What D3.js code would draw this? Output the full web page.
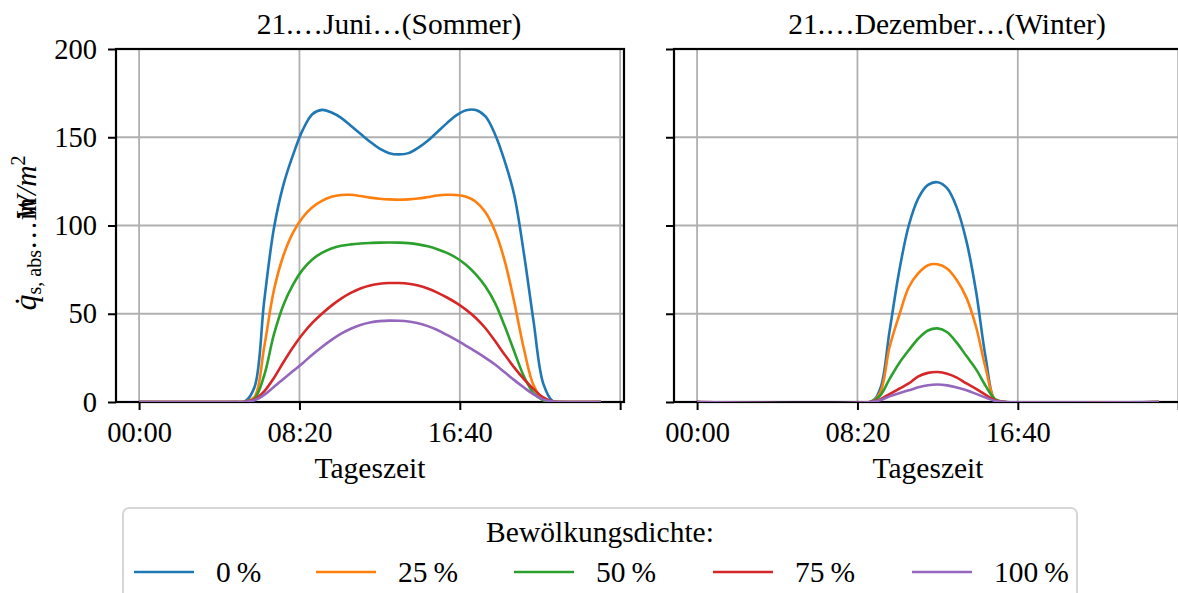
<!DOCTYPE html>
<html>
<head>
<meta charset="utf-8">
<script src="https://cdn.jsdelivr.net/npm/d3@7"></script>
<style>
body { margin: 0; background: #fff; }
svg text { font-family: "Liberation Serif", "Times New Roman", serif; fill: #000; }
</style>
</head>
<body>
<svg id="chart" width="1178" height="593"></svg>
<script>
// cloud cover classes (legend)
const seriesNames = ['0\u2009%', '25\u2009%', '50\u2009%', '75\u2009%', '100\u2009%']
const seriesColors = ['#1f77b4', '#ff7f0e', '#2ca02c', '#d62728', '#9467bd']

const panelTitles = ['21.\u2026Juni\u2026(Sommer)', '21.\u2026Dezember\u2026(Winter)']

// time of day in hours
const summerHours = [0, 5, 5.5, 6, 6.5, 7, 7.5, 8, 8.5, 9, 9.5, 10, 10.5, 11, 11.5, 12, 12.5, 13, 13.5,
  14, 14.5, 15, 15.5, 16, 16.5, 17, 17.5, 18, 18.5, 19, 19.5, 20, 20.5, 21, 21.5, 22, 24]
const summer0 = [0, 0, 0.3, 8.5, 57, 98, 123, 140, 154, 163, 165.5, 164, 161, 156.5, 152, 147.5, 143.5, 141, 140.3,
  141, 144, 148, 153, 158, 162.5, 165.3, 165.4, 161.8, 151.6, 136.5, 117, 84, 45.7, 10.6, 0.5, 0, 0]
const summer25 = [0, 0, 0.2, 3, 31, 63, 83, 96, 104.5, 110.3, 114, 116.3, 117.3, 117.4, 116.7, 115.8, 115.2, 114.8, 114.6,
  114.8, 115.3, 116.1, 117, 117.4, 117.3, 116.3, 113.5, 107.5, 96.7, 80, 56.4, 30, 9.5, 1.5, 0.2, 0, 0]
const summer50 = [0, 0, 0.1, 2, 15, 38, 55, 66.5, 75, 80.8, 84.5, 87, 88.5, 89.3, 89.8, 90.1, 90.3, 90.4, 90.3,
  90, 89.3, 88.2, 86.6, 84.5, 81.6, 77.6, 72.3, 65.4, 56, 43, 28.5, 14.5, 5, 1, 0.1, 0, 0]
const summer75 = [0, 0, 0.1, 1.5, 6, 13.5, 22.5, 31, 38.5, 44.8, 50, 54.6, 58.6, 61.8, 64.3, 66, 67, 67.4, 67.4,
  67, 66, 64.3, 62, 59.2, 56, 52.2, 47.6, 41.8, 34.5, 26.8, 19.5, 13, 7.3, 2.6, 0.3, 0, 0]
const summer100 = [0, 0, 0.1, 1, 4, 8.5, 13, 17.5, 22, 26.8, 31.2, 35.2, 38.7, 41.5, 43.6, 45, 45.8, 46.1, 46,
  45.6, 44.6, 43, 40.8, 38, 35, 31.8, 28.5, 25, 21.2, 16.8, 12.4, 8.2, 4.3, 1.5, 0.2, 0, 0]

const winterHours = [0, 9, 9.5, 10, 10.5, 11, 11.5, 12, 12.5, 13, 13.5, 14, 14.5, 15, 15.5, 16, 24]
const winter0 = [0, 0, 7, 40, 74, 100, 115.5, 123, 124.5, 121, 110, 91, 62.5, 25, 0.5, 0, 0]
const winter25 = [0, 0, 5, 31, 49, 65, 73, 77.5, 78, 75.5, 69, 59, 42.5, 19, 1, 0, 0]
const winter50 = [0, 0, 3.5, 13, 22, 29.3, 36, 40.5, 41.7, 39.5, 33.5, 26, 18.5, 9, 1.5, 0, 0]
const winter75 = [0, 0, 1.5, 4.5, 7.5, 10.5, 14.5, 16.5, 17, 16, 13.8, 10.5, 7.5, 4, 1, 0, 0]
const winter100 = [0, 0, 1, 3.2, 5, 6.6, 8.3, 9.5, 9.9, 9.4, 8.2, 6.7, 4.6, 2.5, 0.6, 0, 0]

const xTickHours = [0, 25 / 3, 50 / 3, 25]
const xTickLabels = ['00:00', '08:20', '16:40', '']
const yTicks = [0, 50, 100, 150, 200]

const panels = [
  {title: panelTitles[0], hours: summerHours, series: [summer0, summer25, summer50, summer75, summer100], left: 116, yLabels: true},
  {title: panelTitles[1], hours: winterHours, series: [winter0, winter25, winter50, winter75, winter100], left: 674, yLabels: false}
]

var svg = d3.select('#chart')
var plotW = 508
var plotH = 353
var plotTop = 49
var fs = 29.5
var tickFs = 28.5

var x = d3.scaleLinear().domain([-1.2, 25.2]).range([0, plotW])
var y = d3.scaleLinear().domain([0, 200]).range([plotH, 0])

panels.forEach(function (p) {
  var g = svg.append('g').attr('transform', 'translate(' + p.left + ',' + plotTop + ')')

  g.append('defs').append('clipPath').attr('id', 'clip' + p.left)
    .append('rect').attr('width', plotW).attr('height', plotH)

  // grid
  g.append('g').selectAll('line').data(xTickHours).join('line')
    .attr('x1', d => x(d)).attr('x2', d => x(d)).attr('y1', 0).attr('y2', plotH)
    .attr('stroke', '#b0b0b0').attr('stroke-width', 1.8)
  g.append('g').selectAll('line').data(yTicks).join('line')
    .attr('x1', 0).attr('x2', plotW).attr('y1', d => y(d)).attr('y2', d => y(d))
    .attr('stroke', '#b0b0b0').attr('stroke-width', 1.8)

  // frame (below the curves, so the zero lines stay visible on the bottom spine)
  g.append('rect').attr('width', plotW).attr('height', plotH)
    .attr('fill', 'none').attr('stroke', '#000').attr('stroke-width', 2.2)

  var line = d3.line()
    .x((d, i) => x(p.hours[i]))
    .y(d => y(Math.max(0, d)))
    .curve(d3.curveCatmullRom.alpha(0.5))

  g.append('g').attr('clip-path', 'url(#clip' + p.left + ')')
    .selectAll('path').data(p.series).join('path')
    .attr('d', d => line(d))
    .attr('fill', 'none')
    .attr('stroke', (d, i) => seriesColors[i])
    .attr('stroke-width', 2.6)
    .attr('stroke-linejoin', 'round')

  var xAxis = d3.axisBottom(x).tickValues(xTickHours)
    .tickFormat((d, i) => xTickLabels[i]).tickSize(8).tickPadding(12)
  var gx = g.append('g').attr('transform', 'translate(0,' + plotH + ')').call(xAxis)

  var yAxis = d3.axisLeft(y).tickValues(yTicks).tickSize(8).tickPadding(11)
  if (!p.yLabels) yAxis.tickFormat('')
  var gy = g.append('g').call(yAxis)

  ;[gx, gy].forEach(function (a) {
    a.select('.domain').remove()
    a.selectAll('.tick line').attr('stroke', '#000').attr('stroke-width', 2)
    a.selectAll('.tick text').attr('font-size', tickFs).attr('font-family', 'Liberation Serif').attr('fill', '#000')
  })

  g.append('text').attr('x', plotW / 2 + 19).attr('y', -15)
    .attr('text-anchor', 'middle').attr('font-size', fs).text(p.title)

  g.append('text').attr('x', plotW / 2).attr('y', plotH + 76)
    .attr('text-anchor', 'middle').attr('font-size', fs).text('Tageszeit')
})

// y axis label
var yl = svg.append('text')
  .attr('transform', 'translate(36,233) rotate(-90)')
  .attr('text-anchor', 'middle').attr('font-size', fs)
yl.append('tspan').attr('font-style', 'italic').attr('font-size', 32).text('q\u0307')
yl.append('tspan').attr('font-size', 20).attr('dy', 5).text('s, abs')
yl.append('tspan').attr('dy', -5).text('\u2026in')
yl.append('tspan').attr('dx', -22).attr('font-style', 'italic').text('W/m')
yl.append('tspan').attr('font-size', 20).attr('dy', -11).text('2')

// legend
var lg = svg.append('g')
lg.append('rect').attr('x', 123).attr('y', 508).attr('width', 954).attr('height', 110)
  .attr('rx', 6).attr('fill', '#fff').attr('stroke', '#d6d6d6').attr('stroke-width', 2)
lg.append('text').attr('x', 600).attr('y', 542).attr('text-anchor', 'middle')
  .attr('font-size', fs).text('Bewölkungsdichte:')

var handleX = [134, 316, 514, 713, 912]
seriesNames.forEach(function (name, i) {
  lg.append('line').attr('x1', handleX[i]).attr('x2', handleX[i] + 60).attr('y1', 572).attr('y2', 572)
    .attr('stroke', seriesColors[i]).attr('stroke-width', 2.6)
  lg.append('text').attr('x', handleX[i] + 82).attr('y', 582).attr('font-size', fs).text(name)
})
</script>
</body>
</html>
